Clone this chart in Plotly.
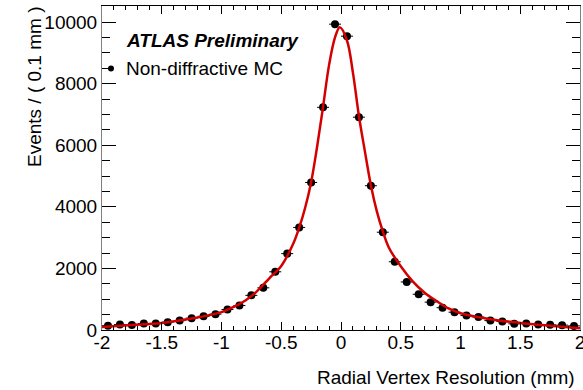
import plotly.graph_objects as go

# Histogram points (bin centres, events per 0.1 mm)
bin_centers = [-1.95, -1.85, -1.75, -1.65, -1.55, -1.45, -1.35, -1.25, -1.15, -1.05,
               -0.95, -0.85, -0.75, -0.65, -0.55, -0.45, -0.35, -0.25, -0.15, -0.05,
               0.05, 0.15, 0.25, 0.35, 0.45, 0.55, 0.65, 0.75, 0.85, 0.95,
               1.05, 1.15, 1.25, 1.35, 1.45, 1.55, 1.65, 1.75, 1.85, 1.95]
events = [140, 175, 160, 210, 215, 255, 305, 385, 445, 515,
          665, 795, 1125, 1370, 1890, 2480, 3330, 4790, 7230, 9930,
          9540, 6910, 4685, 3175, 2215, 1560, 1160, 905, 725, 578,
          470, 420, 305, 280, 200, 210, 178, 168, 158, 133]
bin_half_width = [0.05] * len(bin_centers)

# Fit curve
fit_x = [-2.0, -1.75, -1.5, -1.25, -1.0, -0.9, -0.8, -0.7, -0.6, -0.5, -0.4, -0.35, -0.3,
         -0.25, -0.2, -0.15, -0.1, -0.05, -0.01, 0.05, 0.1, 0.15, 0.2, 0.25, 0.3, 0.35,
         0.4, 0.5, 0.6, 0.7, 0.8, 0.9, 1.0, 1.25, 1.5, 1.75, 2.0]
fit_y = [100, 160, 230, 370, 580, 750, 960, 1270, 1680, 2080, 2800, 3320, 3970,
         4800, 5950, 7250, 8600, 9500, 9830, 9400, 8350, 6950, 5800, 4700, 3850, 3200,
         2680, 2070, 1580, 1210, 940, 700, 545, 350, 230, 140, 60]

# Tick labels
x_tickvals = [-2, -1.5, -1, -0.5, 0, 0.5, 1, 1.5, 2]
x_ticktext = ["-2", "-1.5", "-1", "-0.5", "0", "0.5", "1", "1.5", "2"]
y_tickvals = [0, 2000, 4000, 6000, 8000, 10000]
y_ticktext = ["0", "2000", "4000", "6000", "8000", "10000"]

x_title = "Radial Vertex Resolution (mm)"
y_title = "Events / ( 0.1 mm )"
label_atlas = "<b><i>ATLAS Preliminary</i></b>"
label_mc = "Non-diffractive MC"

FONT = "Liberation Sans, Arial, Helvetica, sans-serif"
FS = 19

fig = go.Figure()
fig.add_trace(go.Scatter(
    x=bin_centers, y=events, mode="markers",
    marker=dict(color="black", size=8, symbol="circle"),
    error_x=dict(type="data", array=bin_half_width, color="black", thickness=1, width=0),
    error_y=dict(type="data", array=[v ** 0.5 for v in events], color="black", thickness=1, width=0),
    showlegend=False, name=label_mc,
))
fig.add_trace(go.Scatter(
    x=fit_x, y=fit_y, mode="lines", line=dict(color="#d40000", width=2.5, shape="spline", smoothing=1.0),
    showlegend=False, name="fit",
))

fig.update_layout(
    width=583, height=390,
    margin=dict(l=102, r=3, t=6, b=60),
    paper_bgcolor="white", plot_bgcolor="white",
    font=dict(family=FONT, size=FS, color="black"),
    xaxis=dict(
        range=[-2, 2], tickmode="array", tickvals=x_tickvals, ticktext=x_ticktext,
        ticks="inside", ticklen=8, tickwidth=1, tickcolor="black",
        minor=dict(ticks="inside", dtick=0.1, tick0=-2, ticklen=4, tickcolor="black", tickwidth=1),
        showline=True, linecolor="black", linewidth=1, mirror="allticks",
        showgrid=False, zeroline=False, tickfont=dict(size=FS), ticklabeloverflow="allow",
        automargin=False, ticklabelstandoff=-5,
    ),
    yaxis=dict(
        range=[0, 10520], tickmode="array", tickvals=y_tickvals, ticktext=y_ticktext,
        ticks="inside", ticklen=14, tickwidth=1, tickcolor="black",
        minor=dict(ticks="inside", dtick=500, tick0=0, ticklen=8, tickcolor="black", tickwidth=1),
        showline=True, linecolor="#808080", linewidth=1, mirror="allticks",
        showgrid=False, zeroline=False, tickfont=dict(size=FS), ticklabeloverflow="allow",
        automargin=False,
    ),
)

fig.add_annotation(text=label_atlas, xref="paper", yref="paper", x=0.046, y=0.895,
                   xanchor="left", yanchor="middle", showarrow=False, font=dict(size=FS))
fig.add_annotation(text=label_mc, xref="paper", yref="paper", x=0.046, y=0.807,
                   xanchor="left", yanchor="middle", showarrow=False, font=dict(size=FS))
fig.add_shape(type="circle", xref="paper", yref="paper", xsizemode="pixel", ysizemode="pixel",
              xanchor=0.0188, yanchor=0.807, x0=-3, x1=3, y0=-3, y1=3,
              fillcolor="black", line=dict(color="black", width=0))
fig.add_annotation(text=y_title, xref="paper", yref="paper", x=-0.1423, y=1.003,
                   xanchor="center", yanchor="top", textangle=-90, showarrow=False, font=dict(size=FS))
fig.add_annotation(text=x_title, xref="paper", yref="paper", x=0.9937, y=-0.148,
                   xanchor="right", yanchor="middle", showarrow=False, font=dict(size=FS))

fig.write_html("out.html")
